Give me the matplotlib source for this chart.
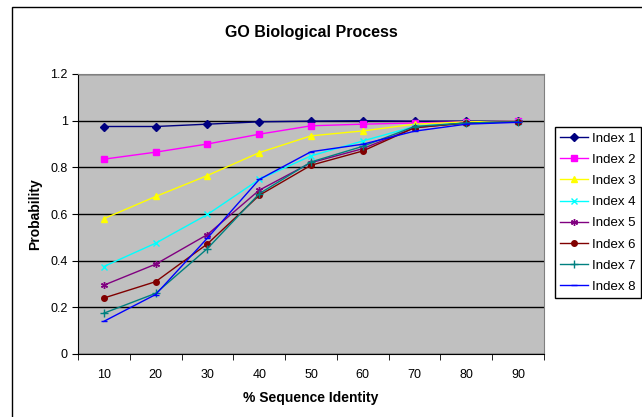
import matplotlib
matplotlib.use("Agg")
import matplotlib.pyplot as plt
from matplotlib.patches import Rectangle

plt.rcParams['font.family'] = ['Liberation Sans', 'DejaVu Sans']

identity = ['10', '20', '30', '40', '50', '60', '70', '80', '90']

index1 = [0.975, 0.975, 0.985, 0.995, 0.998, 1.0, 0.998, 0.998, 0.997]
index2 = [0.835, 0.865, 0.90, 0.942, 0.978, 0.985, 0.99, 0.995, 0.997]
index3 = [0.58, 0.675, 0.765, 0.863, 0.935, 0.956, 0.985, 0.995, 0.997]
index4 = [0.375, 0.475, 0.598, 0.748, 0.849, 0.913, 0.975, 0.99, 0.995]
index5 = [0.295, 0.385, 0.512, 0.702, 0.82, 0.88, 0.97, 0.99, 0.995]
index6 = [0.24, 0.31, 0.472, 0.68, 0.809, 0.87, 0.97, 0.99, 0.995]
index7 = [0.175, 0.26, 0.452, 0.687, 0.823, 0.89, 0.975, 0.99, 0.995]
index8 = [0.14, 0.255, 0.497, 0.748, 0.867, 0.899, 0.955, 0.985, 0.993]

series = [index1, index2, index3, index4, index5, index6, index7, index8]
names = ['Index 1', 'Index 2', 'Index 3', 'Index 4',
         'Index 5', 'Index 6', 'Index 7', 'Index 8']
colors = ['#000080', '#FF00FF', '#FFFF00', '#00FFFF',
          '#800080', '#800000', '#008080', '#0000FF']
markers = ['D', 's', '^', 'x', (6, 2, 0), 'o', '+', '_']
msizes = [4, 5, 5, 4, 5, 4, 6, 5]

fig = plt.figure(figsize=(6.42, 4.17), dpi=100)
fig.patch.set_facecolor('white')
fig.patches.append(Rectangle((12 / 642, -0.1), 1.2, 1.1 - 7 / 417,
                             transform=fig.transFigure, fill=False,
                             edgecolor='black', linewidth=1))

ax = fig.add_axes([78 / 642, 1 - 354 / 417, 466 / 642, 280 / 417])
ax.set_facecolor('#C0C0C0')

x = list(range(len(identity)))
for vals, name, c, m, ms in zip(series, names, colors, markers, msizes):
    ax.plot(x, vals, color=c, marker=m, markersize=ms, linewidth=1,
            markeredgecolor=c, markerfacecolor=c, label=name)

ax.set_xlim(-0.5, len(identity) - 0.5)
ax.set_ylim(0, 1.2)
ax.set_yticks([0, 0.2, 0.4, 0.6, 0.8, 1.0, 1.2])
ax.set_yticklabels(['0', '0.2', '0.4', '0.6', '0.8', '1', '1.2'])
ax.set_xticks(x)
ax.set_xticklabels(identity)
ax.set_xticks([i - 0.5 for i in range(len(identity) + 1)], minor=True)
ax.tick_params(axis='x', which='major', length=0, pad=11, labelsize=9)
ax.tick_params(axis='x', which='minor', length=4, direction='out')
ax.tick_params(axis='y', length=4, direction='out', labelsize=9)

ax.yaxis.grid(True, color='black', linewidth=1)
ax.set_axisbelow(True)
for s in ['top', 'right']:
    ax.spines[s].set_color('#808080')
for s in ['left', 'bottom']:
    ax.spines[s].set_color('black')

ax.set_xlabel('% Sequence Identity', fontsize=10, fontweight='bold', labelpad=7)
ax.set_ylabel('Probability', fontsize=10, fontweight='bold', labelpad=6)
ax.set_title('GO Biological Process', fontsize=11.5, fontweight='bold', pad=27)

leg = ax.legend(loc='upper left', bbox_to_anchor=(555 / 642, 1 - 127 / 417),
                bbox_transform=fig.transFigure, fontsize=9.5, frameon=True,
                fancybox=False, edgecolor='black', framealpha=1,
                borderaxespad=0, borderpad=0.4, labelspacing=0.68,
                handlelength=2.1, handletextpad=0.3)
leg.get_frame().set_linewidth(1)

fig.savefig('out.png', dpi=100)
